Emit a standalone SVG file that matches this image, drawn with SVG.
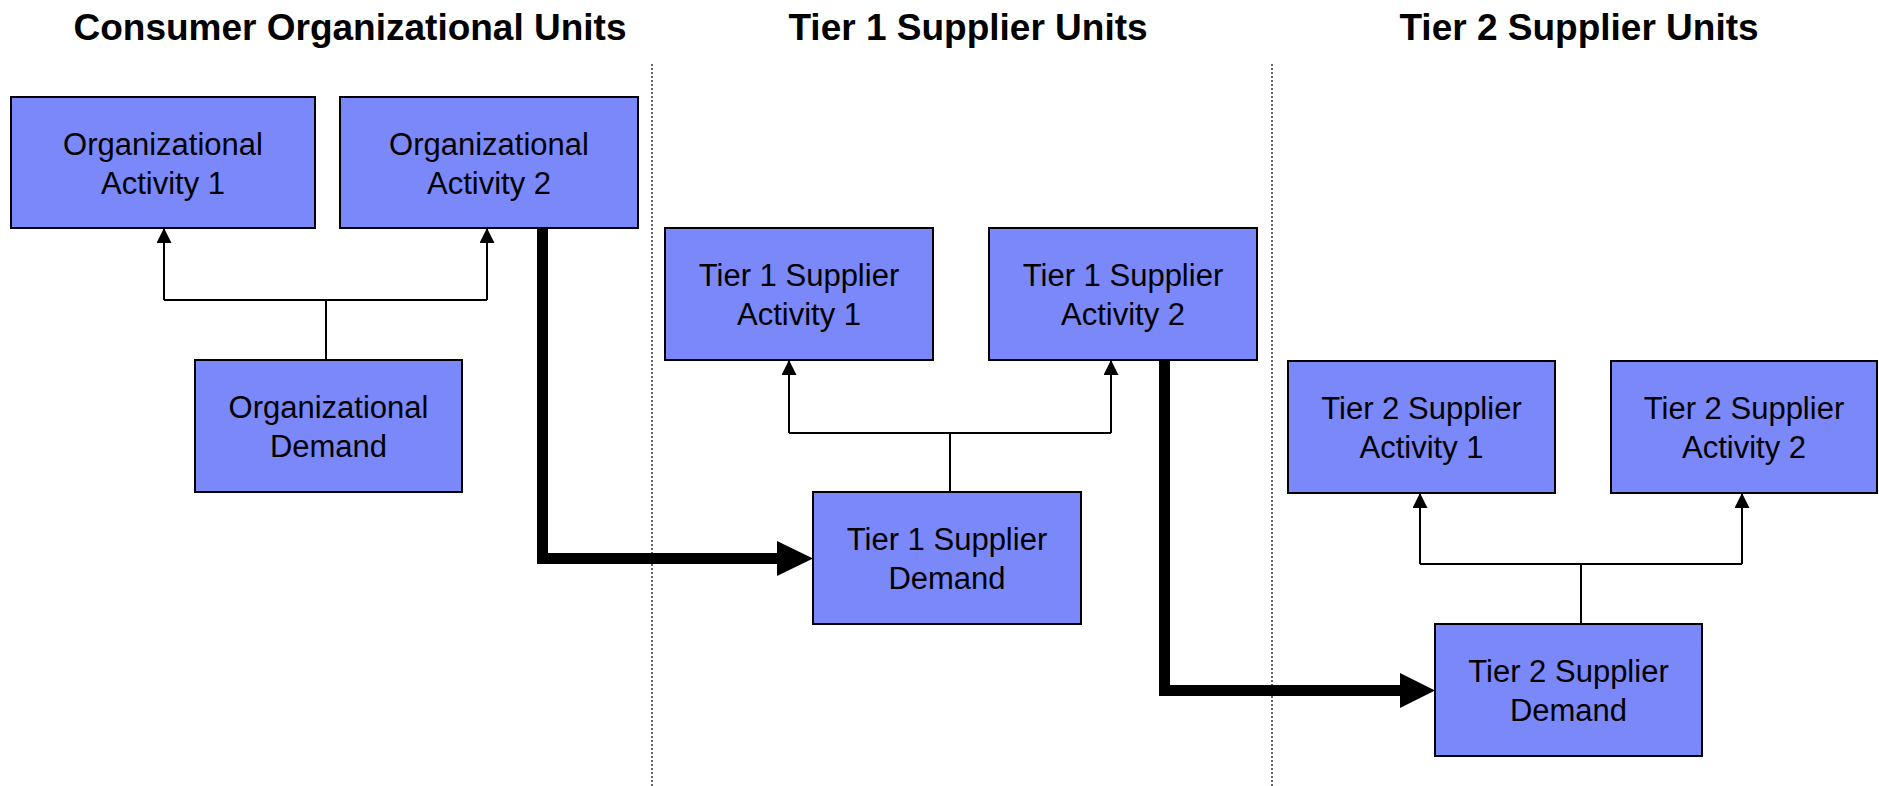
<svg xmlns="http://www.w3.org/2000/svg" width="1879" height="786" viewBox="0 0 1879 786">
<style>
.box{fill:#7B88FA;stroke:#000;stroke-width:2}
.lbl{font-family:"Liberation Sans",Arial,sans-serif;font-size:31px;fill:#000;text-anchor:middle}
.title{font-family:"Liberation Sans",Arial,sans-serif;font-size:37px;font-weight:bold;fill:#000;text-anchor:middle}
.thin{fill:none;stroke:#000;stroke-width:2}
.thick{fill:none;stroke:#000;stroke-width:11;stroke-linejoin:miter}
.sep{fill:none;stroke:#333;stroke-width:1.5;stroke-dasharray:2 2}
</style>
<defs>
<marker id="ah" markerUnits="userSpaceOnUse" markerWidth="15" markerHeight="15" refX="15" refY="7.5" orient="auto">
<path d="M0,0 L15,7.5 L0,15 z" fill="#000"/>
</marker>
</defs>
<rect width="1879" height="786" fill="#fff"/>
<g id="titles">
<text class="title" x="350" y="40">Consumer Organizational Units</text>
<text class="title" x="968" y="40">Tier 1 Supplier Units</text>
<text class="title" x="1579" y="40">Tier 2 Supplier Units</text>
</g>
<g id="separators">
<line class="sep" x1="652" y1="64" x2="652" y2="786"/>
<line class="sep" x1="1272" y1="64" x2="1272" y2="786"/>
</g>
<g id="connectors">
<path class="thin" d="M326,360 V300"/>
<path class="thin" d="M164,300 H487"/>
<path class="thin" d="M164,300 V228" marker-end="url(#ah)"/>
<path class="thin" d="M487,300 V228" marker-end="url(#ah)"/>
<path class="thin" d="M950,492 V433"/>
<path class="thin" d="M789,433 H1111"/>
<path class="thin" d="M789,433 V360" marker-end="url(#ah)"/>
<path class="thin" d="M1111,433 V360" marker-end="url(#ah)"/>
<path class="thin" d="M1581,624 V564"/>
<path class="thin" d="M1420,564 H1742"/>
<path class="thin" d="M1420,564 V493" marker-end="url(#ah)"/>
<path class="thin" d="M1742,564 V493" marker-end="url(#ah)"/>
<path class="thick" d="M542.5,228 V558.5 H779"/>
<polygon points="777,541 813,558.5 777,576" fill="#000"/>
<path class="thick" d="M1164.5,360 V690.5 H1402"/>
<polygon points="1400,673 1435,690.5 1400,708" fill="#000"/>
</g>
<g id="oa1"><rect class="box" x="11" y="97" width="304" height="131"/><text class="lbl" x="163" y="154.5">Organizational</text><text class="lbl" x="163" y="193.5">Activity 1</text></g>
<g id="oa2"><rect class="box" x="340" y="97" width="298" height="131"/><text class="lbl" x="489" y="154.5">Organizational</text><text class="lbl" x="489" y="193.5">Activity 2</text></g>
<g id="od"><rect class="box" x="195" y="360" width="267" height="132"/><text class="lbl" x="328.5" y="418">Organizational</text><text class="lbl" x="328.5" y="457">Demand</text></g>
<g id="t1a1"><rect class="box" x="665" y="228" width="268" height="132"/><text class="lbl" x="799" y="286">Tier 1 Supplier</text><text class="lbl" x="799" y="325">Activity 1</text></g>
<g id="t1a2"><rect class="box" x="989" y="228" width="268" height="132"/><text class="lbl" x="1123" y="286">Tier 1 Supplier</text><text class="lbl" x="1123" y="325">Activity 2</text></g>
<g id="t1d"><rect class="box" x="813" y="492" width="268" height="132"/><text class="lbl" x="947" y="550">Tier 1 Supplier</text><text class="lbl" x="947" y="589">Demand</text></g>
<g id="t2a1"><rect class="box" x="1288" y="361" width="267" height="132"/><text class="lbl" x="1421.5" y="419">Tier 2 Supplier</text><text class="lbl" x="1421.5" y="458">Activity 1</text></g>
<g id="t2a2"><rect class="box" x="1611" y="361" width="266" height="132"/><text class="lbl" x="1744" y="419">Tier 2 Supplier</text><text class="lbl" x="1744" y="458">Activity 2</text></g>
<g id="t2d"><rect class="box" x="1435" y="624" width="267" height="132"/><text class="lbl" x="1568.5" y="682">Tier 2 Supplier</text><text class="lbl" x="1568.5" y="721">Demand</text></g>
</svg>
